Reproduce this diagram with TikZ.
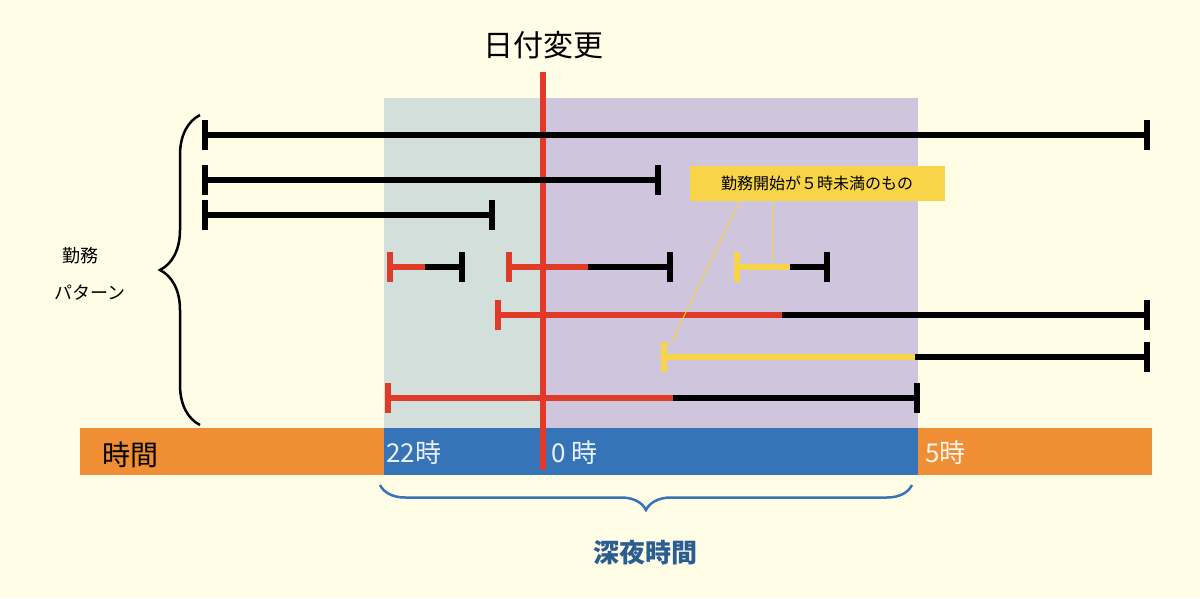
\documentclass[tikz,border=0pt]{standalone}
\usepackage{fontspec}
\setmainfont{Noto Sans CJK JP}
\usetikzlibrary{decorations.pathreplacing}
\definecolor{bg}{HTML}{FFFDE6}
\definecolor{gz}{HTML}{D2DFDA}
\definecolor{pz}{HTML}{CFC5DC}
\definecolor{rd}{HTML}{E03A28}
\definecolor{yl}{HTML}{F8D548}
\definecolor{og}{HTML}{EF8E35}
\definecolor{bl}{HTML}{3474B7}
\begin{document}
\begin{tikzpicture}[x=1pt,y=-1pt,
  bar/.style={line width=6pt},
  endtick/.style={line width=6pt},
  lab/.style={inner sep=0pt,anchor=west,font=\fontsize{26}{26}\selectfont}]
\fill[bg] (0,0) rectangle (1200,598);
\useasboundingbox (0,0) rectangle (1200,598);
\fill[gz] (384,98) rectangle (543,430);
\fill[pz] (543,98) rectangle (918,430);
% time bar
\fill[og] (80,428) rectangle (1152,475);
\fill[bl] (384,428) rectangle (918,475);
\node[lab,text=black,font=\fontsize{28}{28}\selectfont] (t0) at (102,455) {時間};
\node[lab,text=white!90!bl] (t1) at (386,453) {22時};
\node[lab,text=white!90!bl] (t2) at (551,453) {0 時};
\node[lab,text=white!90!og] (t3) at (925,453) {5時};
% date change
\draw[rd,line width=6pt] (543,72) -- (543,470);
\node[font=\fontsize{30}{30}\selectfont] (dc) at (543,45) {日付変更};
% bars
\newcommand{\wbar}[5]{% y, x0, x1(colored end), x2, color
  \draw[#5,endtick] (#2,#1-15) -- (#2,#1+15);
  \draw[#5,bar] (#2,#1) -- (#3,#1);
  \draw[black,bar] (#3,#1) -- (#4,#1);
  \draw[black,endtick] (#4,#1-15) -- (#4,#1+15);}
\wbar{135}{205}{205}{1147}{black}
\wbar{180}{205}{205}{658}{black}
\wbar{215}{205}{205}{492}{black}
\wbar{267}{390}{425}{462}{rd}
\wbar{267}{509}{588}{670}{rd}
\wbar{267}{737}{790}{827}{yl}
\wbar{315}{498}{782}{1147}{rd}
\wbar{357}{664}{915}{1147}{yl}
\wbar{398}{388}{673}{917}{rd}
% callout
\coordinate (c1) at (670,345);
\coordinate (c2) at (772,262);
\node[fill=yl,minimum width=255pt,minimum height=35pt,inner sep=0pt,font=\fontsize{16}{16}\selectfont] (co) at (817,183) {勤務開始が５時未満のもの};
\draw[yl,line width=1pt] (co.south) ++(-77,0) coordinate (s1) -- (c1);
\draw[yl,line width=1pt] (co.south) ++(-45,0) coordinate (s2) -- (c2);
% left brace
\draw[black,line width=2.5pt,decorate,decoration={brace,amplitude=40pt,aspect=0.5}] (200,425) -- (200,115);
\node[font=\fontsize{18}{18}\selectfont] (w1) at (80,256) {勤務};
\node[font=\fontsize{18}{18}\selectfont] (w2) at (90,293) {パターン};
% bottom brace
\draw[bl,line width=2.5pt,decorate,decoration={brace,amplitude=25pt,aspect=0.5}] (912,485) -- (380,485);
\node[text=bl!80!black,font=\bfseries\fontsize{26}{26}\selectfont] (sy) at (645,553) {深夜時間};
\end{tikzpicture}
\end{document}
